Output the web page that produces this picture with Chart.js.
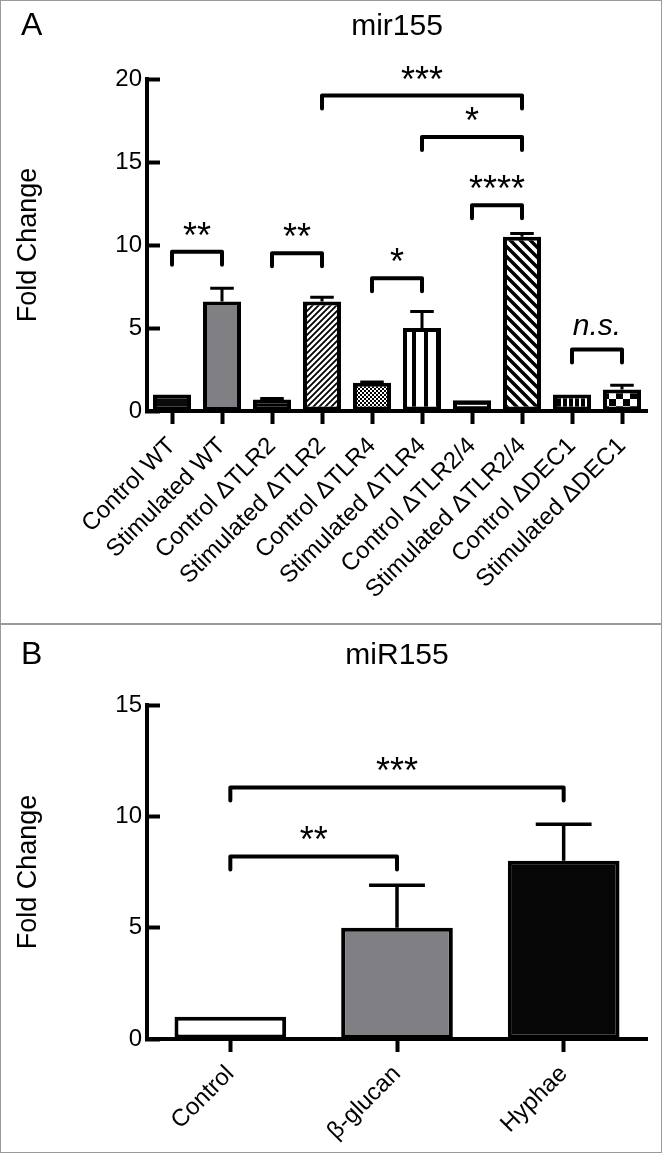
<!DOCTYPE html>
<html>
<head>
<meta charset="utf-8">
<script src="https://cdn.jsdelivr.net/npm/chart.js@4/dist/chart.umd.min.js"></script>
<style>
html,body{margin:0;padding:0;background:#fff;}
#wrap{position:relative;width:662px;height:1153px;overflow:hidden;background:#fff;}
#frame{position:absolute;left:0;top:0;width:662px;height:1153px;box-sizing:border-box;border:1px solid #9a9a9a;pointer-events:none;}
#sep{position:absolute;left:0;top:623px;width:662px;height:2px;background:#9a9a9a;}
canvas{position:absolute;left:0;}
#ca{top:0;}
#cb{top:626px;}
</style>
</head>
<body>
<div id="wrap">
  <canvas id="ca" width="662" height="623"></canvas>
  <div id="sep"></div>
  <canvas id="cb" width="662" height="527"></canvas>
  <div id="frame"></div>
</div>
<script>
// ---------------- DATA ----------------
const categoriesA = ['Control WT','Stimulated WT','Control ΔTLR2','Stimulated ΔTLR2','Control ΔTLR4','Stimulated ΔTLR4','Control ΔTLR2/4','Stimulated ΔTLR2/4','Control ΔDEC1','Stimulated ΔDEC1'];
const meanA = [1.0, 6.6, 0.7, 6.6, 1.7, 5.0, 0.65, 10.5, 1.0, 1.3];
const errA  = [0, 0.8, 0.05, 0.25, 0.05, 1.0, 0, 0.2, 0, 0.25];
const yTicksA = [0, 5, 10, 15, 20];
const bracketFromA  = [0, 2, 4, 6, 5, 3, 8];
const bracketToA    = [1, 3, 5, 7, 7, 7, 9];
const bracketLevelA = [9.6, 9.5, 8.0, 12.4, 16.5, 19.0, 3.7];
const bracketLabelA = ['**', '**', '*', '****', '*', '***', 'n.s.'];
const titleA = 'mir155';

const categoriesB = ['Control', 'β-glucan', 'Hyphae'];
const meanB = [1.0, 5.0, 8.0];
const errB  = [0, 1.9, 1.65];
const yTicksB = [0, 5, 10, 15];
const bracketFromB  = [0, 0];
const bracketToB    = [1, 2];
const bracketLevelB = [8.2, 11.3];
const bracketLabelB = ['**', '***'];
const titleB = 'miR155';
const yTitle = 'Fold Change';

// ---------------- STYLE ----------------
const FONT = "'Liberation Sans', Arial, Helvetica, sans-serif";
Chart.defaults.font.family = FONT;
Chart.defaults.color = '#000';

function pat(w, h, bg, draw) {
  const c = document.createElement('canvas');
  c.width = w; c.height = h;
  const g = c.getContext('2d');
  g.fillStyle = bg; g.fillRect(0, 0, w, h);
  g.fillStyle = '#000'; g.strokeStyle = '#000';
  draw(g, w, h);
  return g.createPattern(c, 'repeat');
}
const fillsA = [
  '#0b0b0b',
  '#808084',
  pat(4, 5, '#000', (g) => { g.fillStyle = '#fff'; g.fillRect(1, 2, 2, 1); }),
  pat(6, 6, '#fff', (g) => { g.lineWidth = 1.8; g.beginPath(); g.moveTo(-1, 7); g.lineTo(7, -1); g.moveTo(-1, 1); g.lineTo(1, -1); g.moveTo(5, 7); g.lineTo(7, 5); g.stroke(); }),
  pat(4, 4, '#000', (g) => { g.fillStyle = '#fff'; g.fillRect(0, 0, 2, 2); g.fillRect(2, 2, 2, 2); }),
  pat(12, 12, '#fff', (g) => { g.fillRect(4, 0, 4, 12); }),
  pat(1, 6, '#000', (g) => { g.fillStyle = '#fff'; g.fillRect(0, 3, 1, 1); }),
  pat(10, 10, '#fff', (g) => { g.lineWidth = 3.5; g.beginPath(); g.moveTo(-1, -1); g.lineTo(11, 11); g.moveTo(9, -1); g.lineTo(11, 1); g.moveTo(-1, 9); g.lineTo(1, 11); g.stroke(); }),
  pat(6, 6, '#000', (g) => { g.fillStyle = '#fff'; g.fillRect(3, 0, 2, 6); }),
  pat(14, 14, '#fff', (g) => { g.fillRect(0, 0, 7, 7); g.fillRect(7, 7, 7, 7); })
];
const fillsB = ['#ffffff', '#808084', '#060606'];

function annotPlugin(cfg) {
  return {
    id: 'annot',
    afterDatasetsDraw(chart) {
      const ctx = chart.ctx, y = chart.scales.y;
      const meta = chart.getDatasetMeta(0);
      ctx.save();
      ctx.strokeStyle = '#000';
      ctx.lineWidth = cfg.errWidth;
      meta.data.forEach((bar, i) => {
        const e = cfg.err[i];
        if (!e) return;
        const p = bar.getProps(['x', 'width'], true);
        const y0 = y.getPixelForValue(cfg.mean[i]);
        const y1 = y.getPixelForValue(cfg.mean[i] + e);
        const half = p.width * cfg.capFrac / 2;
        ctx.beginPath();
        ctx.moveTo(p.x, y0); ctx.lineTo(p.x, y1);
        ctx.moveTo(p.x - half, y1); ctx.lineTo(p.x + half, y1);
        ctx.stroke();
      });
      ctx.restore();
    },
    afterDraw(chart) {
      const ctx = chart.ctx, x = chart.scales.x, y = chart.scales.y;
      const area = chart.chartArea;
      ctx.save();
      ctx.strokeStyle = '#000';
      ctx.fillStyle = '#000';
      ctx.lineWidth = 4;
      ctx.lineCap = 'round';
      ctx.lineJoin = 'round';
      for (let k = 0; k < cfg.from.length; k++) {
        const x1 = x.getPixelForValue(cfg.from[k]);
        const x2 = x.getPixelForValue(cfg.to[k]);
        const yb = y.getPixelForValue(cfg.level[k]);
        ctx.beginPath();
        ctx.moveTo(x1, yb + 13); ctx.lineTo(x1, yb); ctx.lineTo(x2, yb); ctx.lineTo(x2, yb + 13);
        ctx.stroke();
        const lab = cfg.label[k];
        ctx.font = lab === 'n.s.' ? 'italic 30px ' + FONT : '36px ' + FONT;
        ctx.textAlign = 'center';
        ctx.textBaseline = 'alphabetic';
        const m = ctx.measureText(lab);
        const c = (m.actualBoundingBoxDescent - m.actualBoundingBoxAscent) / 2;
        ctx.fillText(lab, (x1 + x2) / 2, yb - 23 - c);
      }
      ctx.textBaseline = 'alphabetic';
      ctx.textAlign = 'left';
      ctx.font = '32px ' + FONT;
      ctx.fillText(cfg.letter, 21, cfg.headBase);
      ctx.textAlign = 'center';
      ctx.font = '30px ' + FONT;
      ctx.fillText(cfg.title, (area.left + area.right) / 2, cfg.headBase);
      ctx.restore();
    }
  };
}

function makeChart(id, labels, data, fills, ticks, cfg) {
  return new Chart(document.getElementById(id), {
    type: 'bar',
    data: {
      labels: labels,
      datasets: [{
        data: data,
        backgroundColor: fills,
        borderColor: '#000',
        borderWidth: 4,
        borderSkipped: false,
        barPercentage: cfg.barPct,
        categoryPercentage: 1
      }]
    },
    options: {
      responsive: false,
      animation: false,
      devicePixelRatio: 1,
      events: [],
      layout: { padding: { left: 0, right: 15, top: cfg.top, bottom: 0 } },
      plugins: { legend: { display: false }, tooltip: { enabled: false }, title: { display: false } },
      scales: {
        x: {
          grid: { display: true, drawOnChartArea: false, offset: false, drawTicks: true, tickLength: 13, tickWidth: 4, tickColor: '#000' },
          border: { display: true, color: '#000', width: 4 },
          ticks: { autoSkip: false, minRotation: 45, maxRotation: 45, padding: 8, color: '#000', font: { size: 24 } },
          afterFit(s) { s.height = cfg.xh; }
        },
        y: {
          min: ticks[0], max: ticks[ticks.length - 1],
          afterBuildTicks(s) { s.ticks = ticks.map(v => ({ value: v })); },
          grid: { display: true, drawOnChartArea: false, drawTicks: true, tickLength: -13, tickWidth: 4, tickColor: '#000' },
          border: { display: true, color: '#000', width: 4 },
          ticks: { padding: 18, color: '#000', font: { size: 24 } },
          title: { display: true, text: yTitle, color: '#000', font: { size: 27 }, padding: { top: 12, bottom: 0 } },
          afterFit(s) { s.width = 147; }
        }
      }
    },
    plugins: [annotPlugin(cfg)]
  });
}

makeChart('ca', categoriesA, meanA, fillsA, yTicksA, {
  top: 79, xh: 212, barPct: 0.76, mean: meanA, err: errA, errWidth: 3, capFrac: 0.62,
  from: bracketFromA, to: bracketToA, level: bracketLevelA, label: bracketLabelA,
  letter: 'A', title: titleA, headBase: 35
});
makeChart('cb', categoriesB, meanB, fillsB, yTicksB, {
  top: 79, xh: 114, barPct: 0.67, mean: meanB, err: errB, errWidth: 3.5, capFrac: 0.5,
  from: bracketFromB, to: bracketToB, level: bracketLevelB, label: bracketLabelB,
  letter: 'B', title: titleB, headBase: 38
});
</script>
</body>
</html>
